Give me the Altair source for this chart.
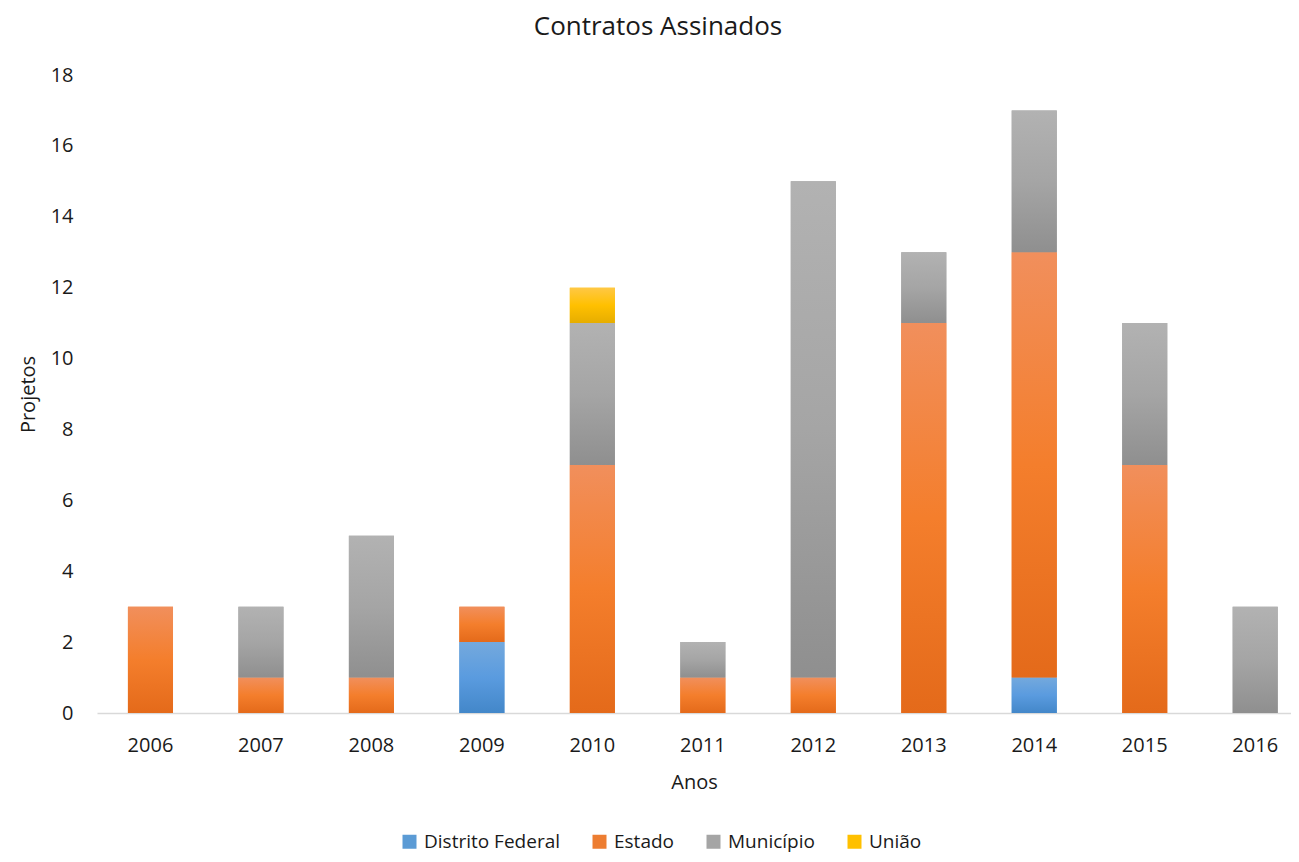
import altair as alt
import pandas as pd

years = ["2006", "2007", "2008", "2009", "2010", "2011", "2012", "2013", "2014", "2015", "2016"]
series = ["Distrito Federal", "Estado", "Município", "União"]
distrito_federal = [0, 0, 0, 2, 0, 0, 0, 0, 1, 0, 0]
estado = [3, 1, 1, 1, 7, 1, 1, 11, 12, 7, 0]
municipio = [0, 2, 4, 0, 4, 1, 14, 2, 4, 4, 3]
uniao = [0, 0, 0, 0, 1, 0, 0, 0, 0, 0, 0]
y_ticks = [0, 2, 4, 6, 8, 10, 12, 14, 16, 18]

solid = ["#5B9BD5", "#ED7D31", "#A5A5A5", "#FFC000"]
grad = {
    "Distrito Federal": ["#74A9DD", "#5A9BDF", "#4387C9"],
    "Estado": ["#F18F5C", "#F47E2C", "#E46A1A"],
    "Município": ["#B2B2B2", "#A5A5A5", "#8F8F8F"],
    "União": ["#FFC845", "#FFC000", "#E6AD00"],
}

rows = []
for i, s in enumerate(series):
    vals = [distrito_federal, estado, municipio, uniao][i]
    for y, v in zip(years, vals):
        if v > 0:
            rows.append({"Ano": y, "Tipo": s, "ordem": i, "valor": v})
df = pd.DataFrame(rows)

FONT = "Open Sans"
TXT = "#1a1a1a"

xscale = alt.Scale(domain=years, paddingInner=0.592, paddingOuter=0.2, align=0.7)
yscale = alt.Scale(domain=[0, 18], nice=False)

base = alt.Chart(df).transform_stack(
    stack="valor", groupby=["Ano"], as_=["y0", "y1"], sort=[alt.SortField("ordem", order="ascending")]
)

enc_x = alt.X("Ano:N", scale=xscale,
              axis=alt.Axis(title="Anos", labelAngle=0, ticks=False, domainColor="#D9D9D9",
                            domainWidth=1.5, labelPadding=22, titlePadding=17, grid=False))
enc_y = alt.Y("y0:Q", scale=yscale,
              axis=alt.Axis(title="Projetos", values=y_ticks, ticks=False, domain=False, grid=False,
                            labelPadding=24, titlePadding=12))

legend_layer = base.mark_bar().encode(
    x=enc_x,
    y=enc_y,
    y2="y1:Q",
    color=alt.Color("Tipo:N", scale=alt.Scale(domain=series, range=solid),
                    legend=alt.Legend(title=None, orient="none", direction="horizontal",
                                      legendX=303, legendY=757, symbolType="square",
                                      symbolSize=196, labelFontSize=19, columnPadding=30,
                                      labelOffset=5, labelColor=TXT, labelFont=FONT,
                                      symbolStrokeWidth=0)),
)

layers = [legend_layer]
for s in series:
    c = grad[s]
    g = alt.Gradient(gradient="linear",
                     stops=[alt.GradientStop(color=c[0], offset=0),
                            alt.GradientStop(color=c[1], offset=0.5),
                            alt.GradientStop(color=c[2], offset=1)],
                     x1=0, x2=0, y1=0, y2=1)
    layers.append(
        base.transform_filter(alt.datum.Tipo == s).mark_bar(color=g).encode(
            x=alt.X("Ano:N", scale=xscale),
            y=alt.Y("y0:Q", scale=yscale),
            y2="y1:Q",
        )
    )

chart = alt.layer(*layers).properties(
    width=1194,
    height=638,
    title=alt.TitleParams("Contratos Assinados", fontSize=26, font=FONT, color=TXT,
                          fontWeight="normal", anchor="middle", dx=-36, offset=25),
    autosize=alt.AutoSizeParams(type="none"),
    padding={"left": 89, "top": 67, "right": 0, "bottom": 141},
).configure_view(stroke=None).configure_axis(
    labelFont=FONT, titleFont=FONT, labelFontSize=20, titleFontSize=20,
    labelColor=TXT, titleColor=TXT, titleFontWeight="normal"
).configure_legend(padding=0)

chart.save("out.html", embed_options={"renderer": "svg", "actions": False})
